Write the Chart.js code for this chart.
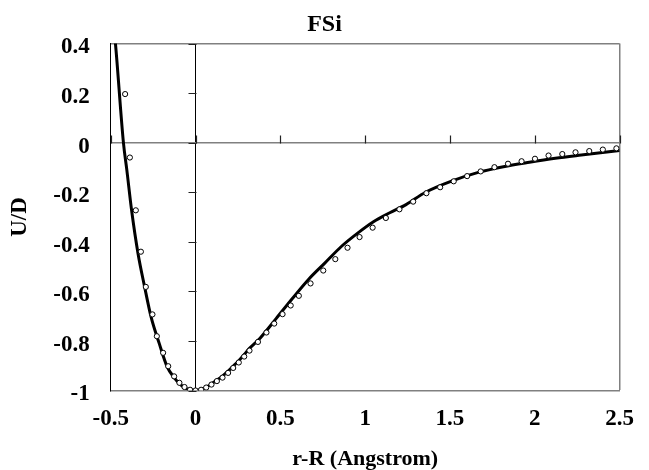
<!DOCTYPE html>
<html lang="en">
<head>
  <meta charset="UTF-8">
  <title>FSi</title>
  <script src="https://cdn.jsdelivr.net/npm/chart.js"></script>
  <style>
    html, body { margin: 0; padding: 0; background: #fff; }
  </style>
</head>
<body>
  <canvas id="fsiChart" width="649" height="470"></canvas>
  <script>
    // fitted curve (solid line)
    const curveX = [-0.478, -0.472, -0.425, -0.405, -0.377, -0.339, -0.300, -0.262, -0.214, -0.167, -0.126, -0.095, -0.065, -0.032, 0,
      0.033, 0.063, 0.094, 0.126, 0.159, 0.192, 0.222, 0.255, 0.287, 0.318, 0.379, 0.475, 0.571, 0.666, 0.762, 0.858, 0.954,
      1.049, 1.145, 1.241, 1.356, 1.509, 1.662, 1.815, 1.968, 2.121, 2.274, 2.5];
    const curveY = [0.44, 0.4, 0.0, -0.11, -0.272, -0.447, -0.582, -0.703, -0.81, -0.905, -0.948, -0.972, -0.988, -0.997, -1.0,
      -0.996, -0.987, -0.973, -0.958, -0.942, -0.922, -0.902, -0.880, -0.855, -0.830, -0.790, -0.710, -0.629, -0.552, -0.486, -0.420, -0.366,
      -0.319, -0.283, -0.250, -0.200, -0.155, -0.121, -0.097, -0.079, -0.063, -0.050, -0.032];

    // data points (open circles)
    const pointX = [-0.415, -0.387, -0.352, -0.322, -0.293, -0.254, -0.228, -0.191, -0.161, -0.126, -0.095, -0.065, -0.032, 0,
      0.033, 0.063, 0.094, 0.126, 0.159, 0.192, 0.222, 0.255, 0.287, 0.318, 0.368, 0.418, 0.464, 0.513, 0.561, 0.609, 0.678,
      0.753, 0.824, 0.896, 0.967, 1.044, 1.122, 1.202, 1.283, 1.361, 1.442, 1.522, 1.601, 1.681, 1.762, 1.842, 1.922, 2.001,
      2.081, 2.162, 2.240, 2.321, 2.401, 2.481];
    const pointY = [0.196, -0.06, -0.273, -0.44, -0.582, -0.693, -0.781, -0.848, -0.902, -0.943, -0.969, -0.986, -0.997, -1.0,
      -0.997, -0.988, -0.976, -0.962, -0.948, -0.929, -0.909, -0.887, -0.863, -0.839, -0.804, -0.766, -0.730, -0.692, -0.657, -0.618, -0.568,
      -0.516, -0.470, -0.424, -0.381, -0.343, -0.304, -0.269, -0.238, -0.204, -0.180, -0.156, -0.135, -0.116, -0.099, -0.085, -0.075, -0.065,
      -0.052, -0.046, -0.039, -0.034, -0.028, -0.023];

    const xTicks = [-0.5, 0, 0.5, 1, 1.5, 2, 2.5];
    const yTicks = [-1, -0.8, -0.6, -0.4, -0.2, 0, 0.2, 0.4];

    const serif = 'Liberation Serif';

    // small tick marks on the axes that cross at the origin
    const crossTicks = {
      id: 'crossTicks',
      beforeDatasetsDraw(chart) {
        const { ctx, scales: { x, y } } = chart;
        const x0 = Math.round(x.getPixelForValue(0)) + 0.5;
        const y0 = Math.round(y.getPixelForValue(0)) + 0.5;
        ctx.save();
        ctx.strokeStyle = '#222';
        ctx.lineWidth = 1.2;
        ctx.beginPath();
        yTicks.forEach(v => {
          const py = Math.round(y.getPixelForValue(v)) + 0.5;
          ctx.moveTo(x0 - 8, py);
          ctx.lineTo(x0, py);
        });
        xTicks.forEach(v => {
          const px = Math.round(x.getPixelForValue(v)) + 0.5;
          ctx.moveTo(px, y0);
          ctx.lineTo(px, y0 - 8);
        });
        ctx.stroke();
        ctx.restore();
      }
    };

    new Chart(document.getElementById('fsiChart'), {
      type: 'scatter',
      data: {
        datasets: [
          {
            label: 'points',
            data: pointX.map((v, i) => ({ x: v, y: pointY[i] })),
            pointStyle: 'circle',
            pointRadius: 2.6,
            pointBackgroundColor: '#fff',
            pointBorderColor: '#000',
            pointBorderWidth: 1,
            showLine: false,
            order: 0
          },
          {
            label: 'curve',
            type: 'line',
            data: curveX.map((v, i) => ({ x: v, y: curveY[i] })),
            borderColor: '#000',
            borderWidth: 3,
            pointRadius: 0,
            cubicInterpolationMode: 'monotone',
            fill: false,
            clip: 0,
            order: 1
          }
        ]
      },
      options: {
        responsive: false,
        animation: false,
        layout: { padding: 0 },
        plugins: {
          legend: { display: false },
          tooltip: { enabled: false },
          title: {
            display: true,
            text: 'FSi',
            color: '#000',
            font: { family: serif, size: 24, weight: 'bold', lineHeight: 1.2 },
            padding: { top: 10, bottom: 4.7 }
          }
        },
        scales: {
          x: {
            type: 'linear',
            min: -0.5,
            max: 2.5,
            afterBuildTicks: s => { s.ticks = xTicks.map(v => ({ value: v })); },
            afterFit: s => { s.height = 79.5; },
            ticks: {
              color: '#000',
              padding: 15,
              font: { family: serif, size: 23, weight: 'bold' },
              callback: v => String(v)
            },
            grid: {
              drawTicks: false,
              color: c => c.tick.value === 0 ? '#000' : (c.tick.value === 2.5 ? '#808080' : 'rgba(0,0,0,0)'),
              lineWidth: c => c.tick.value === 2.5 ? 1.5 : 1
            },
            border: { color: '#808080', width: 1.5 },
            title: {
              display: true,
              text: 'r-R (Angstrom)',
              color: '#000',
              font: { family: serif, size: 22, weight: 'bold', lineHeight: 1 },
              padding: 0
            }
          },
          y: {
            type: 'linear',
            min: -1,
            max: 0.4,
            afterBuildTicks: s => { s.ticks = yTicks.map(v => ({ value: v })); },
            afterFit: s => { s.width = 110.7; },
            ticks: {
              color: '#000',
              padding: 21,
              labelOffset: 4,
              font: { family: serif, size: 23, weight: 'bold' },
              callback: v => String(v)
            },
            grid: {
              drawTicks: false,
              color: c => (c.tick.value === 0 || c.tick.value === 0.4) ? '#808080' : 'rgba(0,0,0,0)',
              lineWidth: 1.5
            },
            border: { color: '#000', width: 1 },
            title: {
              display: true,
              text: 'U/D',
              color: '#000',
              font: { family: serif, size: 23, weight: 'bold', lineHeight: 1 },
              padding: { top: 9, bottom: 0 }
            }
          },
          yr: {
            type: 'linear',
            position: 'right',
            display: true,
            afterFit: s => { s.width = 16; },
            ticks: { display: false },
            grid: { display: false, drawTicks: false },
            border: { display: false }
          }
        }
      },
      plugins: [crossTicks]
    });
  </script>
</body>
</html>
